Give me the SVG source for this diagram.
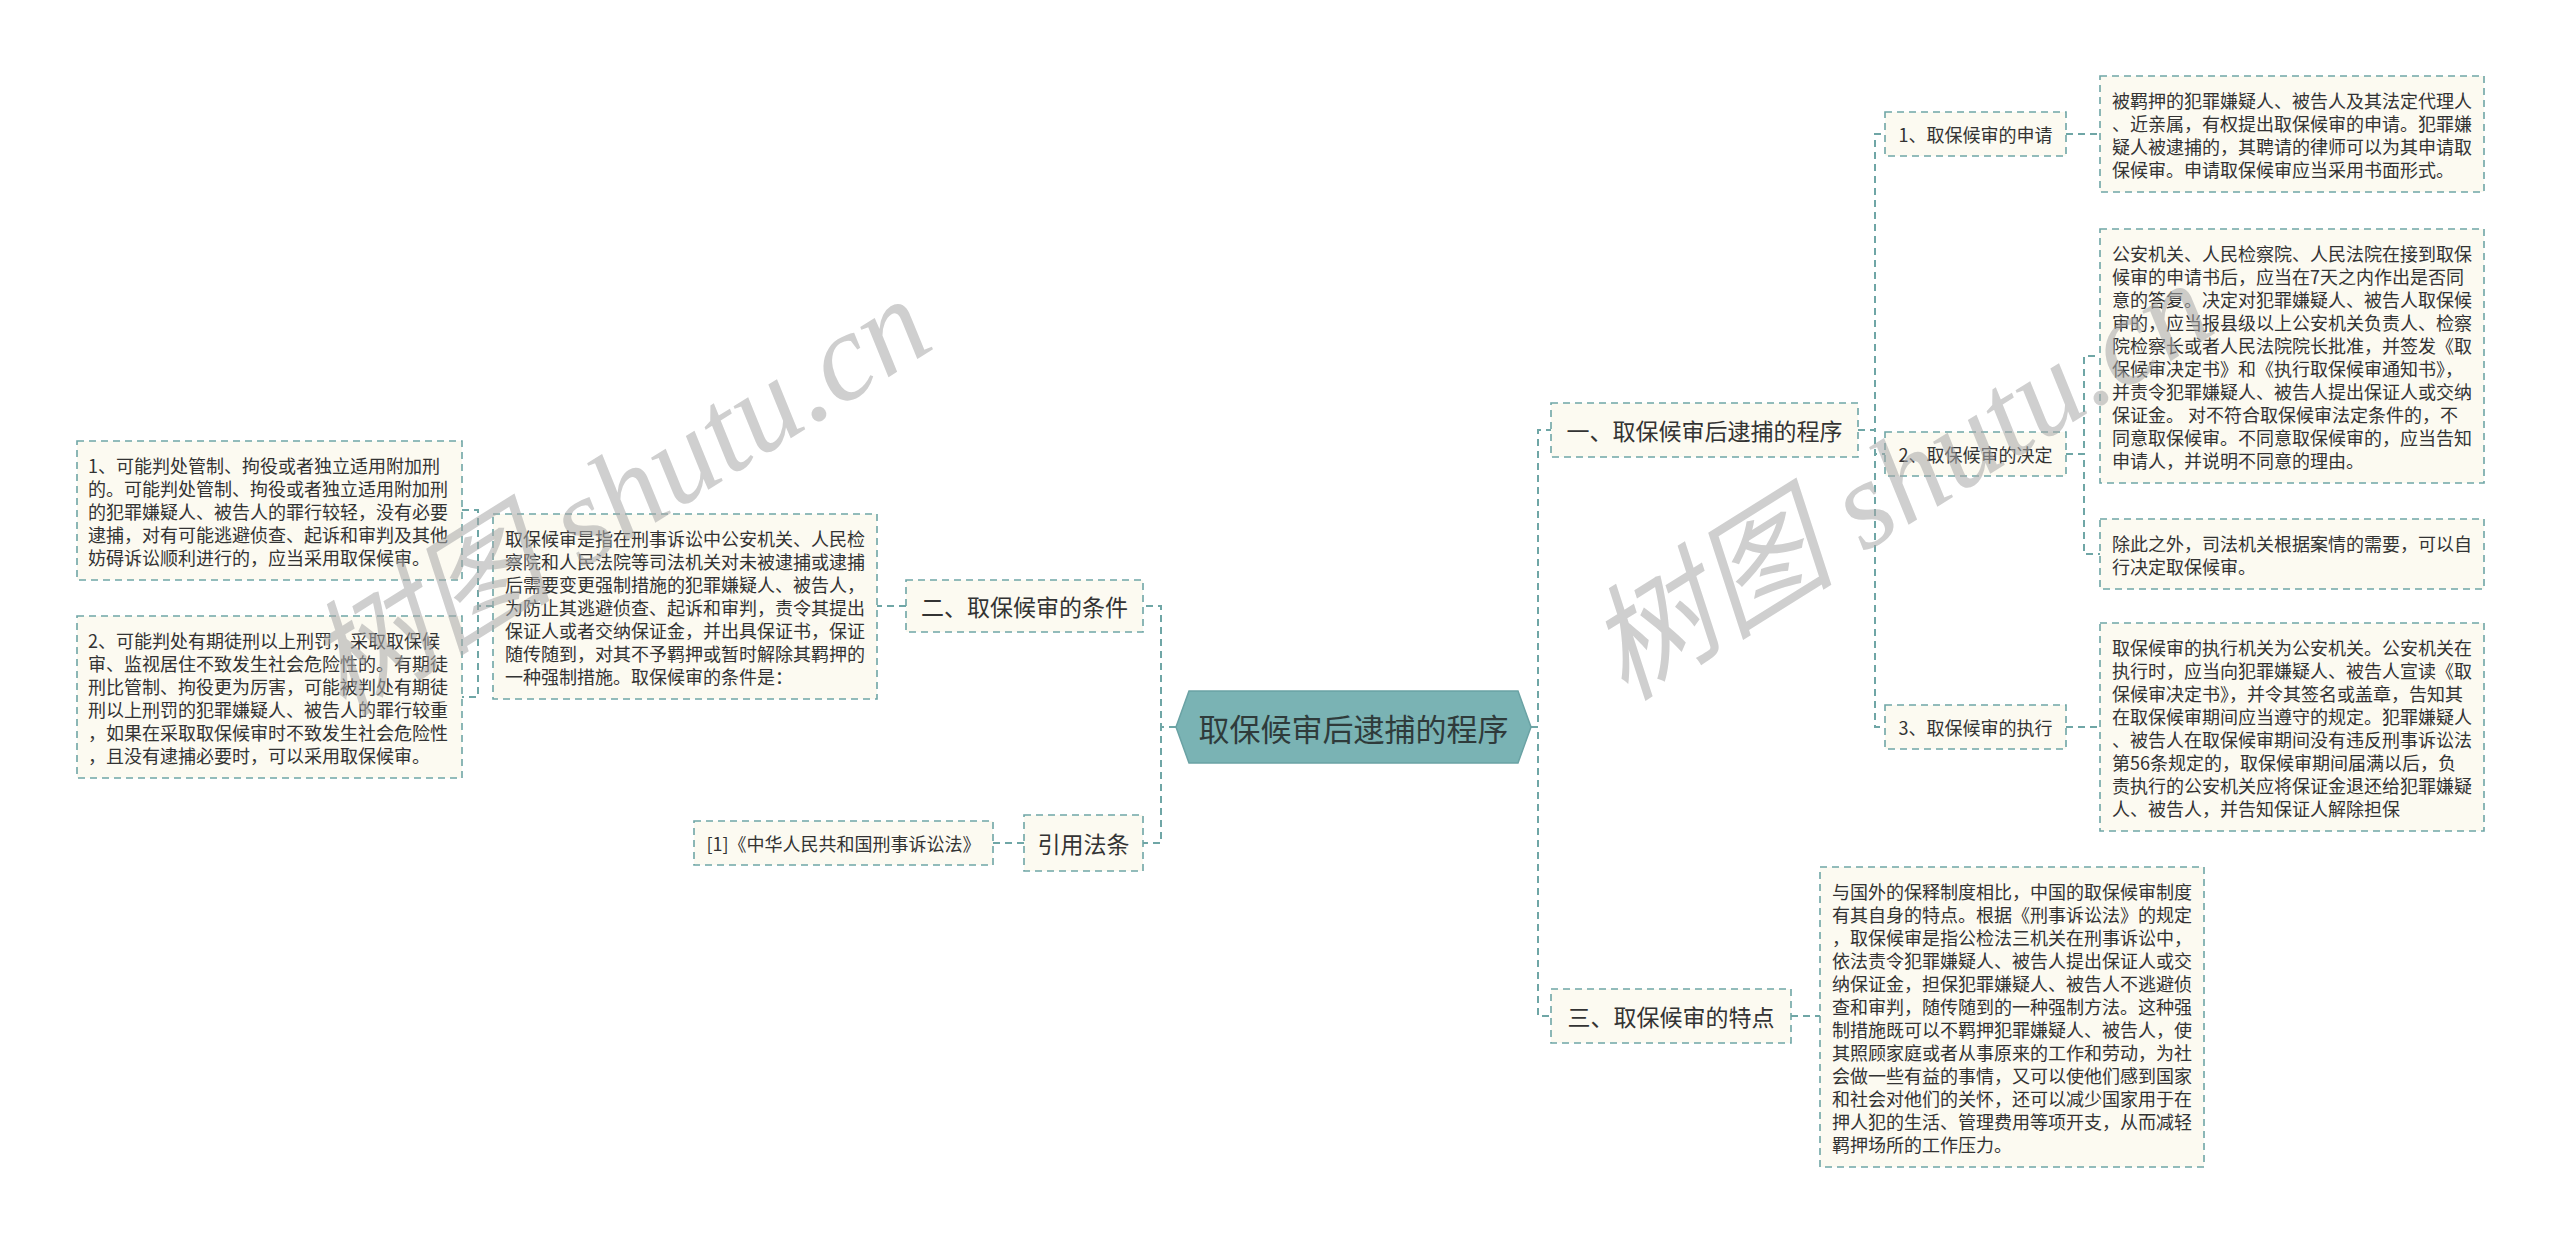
<svg xmlns="http://www.w3.org/2000/svg" width="2560" height="1245" viewBox="0 0 2560 1245">
<style>
.box{fill:#fcfaf1;stroke:#6fa6a6;stroke-width:1.6;stroke-dasharray:7 5}
.con{fill:none;stroke:#6fa6a6;stroke-width:2;stroke-dasharray:7 5}
.t{font-family:"Noto Sans CJK SC","Noto Sans",sans-serif;font-size:18px;fill:#333;dominant-baseline:central}
.m{font-family:"Noto Sans CJK SC","Noto Sans",sans-serif;font-size:23px;fill:#333;dominant-baseline:central;text-anchor:middle}
.s{font-family:"Noto Sans CJK SC","Noto Sans",sans-serif;font-size:18px;fill:#333;dominant-baseline:central;text-anchor:middle}
.wm{font-family:"Liberation Serif","Noto Sans CJK SC",serif;font-style:italic;font-size:125px;fill:#a8a8a8;opacity:0.55}
</style>
<rect width="2560" height="1245" fill="#ffffff"/>
<g id="connectors">
<path class="con" d="M493,606 H478 V510 H462"/>
<path class="con" d="M493,606 H478 V697 H462"/>
<path class="con" d="M906,606 H877"/>
<path class="con" d="M1176,727 H1161 V606 H1143"/>
<path class="con" d="M1176,727 H1161 V843 H1143"/>
<path class="con" d="M1024,843 H993"/>
<path class="con" d="M1531,727 H1538 V430 H1551"/>
<path class="con" d="M1531,727 H1538 V1016 H1551"/>
<path class="con" d="M1791,1016 H1820"/>
<path class="con" d="M1858,430 H1875 V134 H1885"/>
<path class="con" d="M1858,430 H1875 V454 H1885"/>
<path class="con" d="M1858,430 H1875 V727 H1885"/>
<path class="con" d="M2066,134 H2100"/>
<path class="con" d="M2066,454 H2084 V356 H2100"/>
<path class="con" d="M2066,454 H2084 V554 H2100"/>
<path class="con" d="M2066,727 H2100"/>
</g>
<g id="root">
<polygon points="1176,727 1189,691 1518,691 1531,727 1518,763 1189,763" fill="#7ab3b4" stroke="#6aa2a4" stroke-width="1.5"/>
<text x="1353.5" y="727" font-family="'Noto Sans CJK SC',sans-serif" font-size="31" fill="#2f3b3b" text-anchor="middle" dominant-baseline="central">取保候审后逮捕的程序</text>
</g>
<g id="n-er">
<rect class="box" x="906" y="580" width="237" height="52"/>
<text class="m" x="1024.5" y="606">二、取保候审的条件</text>
</g>
<g id="n-er-desc">
<rect class="box" x="493" y="514" width="384" height="185"/>
<text class="t" x="505"><tspan x="505" y="538">取保候审是指在刑事诉讼中公安机关、人民检</tspan><tspan x="505" y="561">察院和人民法院等司法机关对未被逮捕或逮捕</tspan><tspan x="505" y="584">后需要变更强制措施的犯罪嫌疑人、被告人，</tspan><tspan x="505" y="607">为防止其逃避侦查、起诉和审判，责令其提出</tspan><tspan x="505" y="630">保证人或者交纳保证金，并出具保证书，保证</tspan><tspan x="505" y="653">随传随到，对其不予羁押或暂时解除其羁押的</tspan><tspan x="505" y="676">一种强制措施。取保候审的条件是：</tspan></text>
</g>
<g id="n-cond1">
<rect class="box" x="77" y="441" width="385" height="139"/>
<text class="t"><tspan x="88" y="465">1、可能判处管制、拘役或者独立适用附加刑</tspan><tspan x="88" y="488">的。可能判处管制、拘役或者独立适用附加刑</tspan><tspan x="88" y="511">的犯罪嫌疑人、被告人的罪行较轻，没有必要</tspan><tspan x="88" y="534">逮捕，对有可能逃避侦查、起诉和审判及其他</tspan><tspan x="88" y="557">妨碍诉讼顺利进行的，应当采用取保候审。</tspan></text>
</g>
<g id="n-cond2">
<rect class="box" x="77" y="616" width="385" height="162"/>
<text class="t"><tspan x="88" y="640">2、可能判处有期徒刑以上刑罚，采取取保候</tspan><tspan x="88" y="663">审、监视居住不致发生社会危险性的。有期徒</tspan><tspan x="88" y="686">刑比管制、拘役更为厉害，可能被判处有期徒</tspan><tspan x="88" y="709">刑以上刑罚的犯罪嫌疑人、被告人的罪行较重</tspan><tspan x="88" y="732">，如果在采取取保候审时不致发生社会危险性</tspan><tspan x="88" y="755">，且没有逮捕必要时，可以采用取保候审。</tspan></text>
</g>
<g id="n-law">
<rect class="box" x="1024" y="815" width="119" height="56"/>
<text class="m" x="1083.5" y="843">引用法条</text>
</g>
<g id="n-law1">
<rect class="box" x="694" y="821" width="299" height="44"/>
<text class="s" x="843.5" y="843">[1]《中华人民共和国刑事诉讼法》</text>
</g>
<g id="n-yi">
<rect class="box" x="1551" y="403" width="307" height="54"/>
<text class="m" x="1704.5" y="430">一、取保候审后逮捕的程序</text>
</g>
<g id="n-san">
<rect class="box" x="1551" y="989" width="240" height="54"/>
<text class="m" x="1671" y="1016">三、取保候审的特点</text>
</g>
<g id="n-san-desc">
<rect class="box" x="1820" y="867" width="384" height="300"/>
<text class="t"><tspan x="1832" y="891">与国外的保释制度相比，中国的取保候审制度</tspan><tspan x="1832" y="914">有其自身的特点。根据《刑事诉讼法》的规定</tspan><tspan x="1832" y="937">，取保候审是指公检法三机关在刑事诉讼中，</tspan><tspan x="1832" y="960">依法责令犯罪嫌疑人、被告人提出保证人或交</tspan><tspan x="1832" y="983">纳保证金，担保犯罪嫌疑人、被告人不逃避侦</tspan><tspan x="1832" y="1006">查和审判，随传随到的一种强制方法。这种强</tspan><tspan x="1832" y="1029">制措施既可以不羁押犯罪嫌疑人、被告人，使</tspan><tspan x="1832" y="1052">其照顾家庭或者从事原来的工作和劳动，为社</tspan><tspan x="1832" y="1075">会做一些有益的事情，又可以使他们感到国家</tspan><tspan x="1832" y="1098">和社会对他们的关怀，还可以减少国家用于在</tspan><tspan x="1832" y="1121">押人犯的生活、管理费用等项开支，从而减轻</tspan><tspan x="1832" y="1144">羁押场所的工作压力。</tspan></text>
</g>
<g id="n-sub1">
<rect class="box" x="1885" y="112" width="181" height="44"/>
<text class="s" x="1975.5" y="134">1、取保候审的申请</text>
</g>
<g id="n-sub2">
<rect class="box" x="1885" y="432" width="181" height="44"/>
<text class="s" x="1975.5" y="454">2、取保候审的决定</text>
</g>
<g id="n-sub3">
<rect class="box" x="1885" y="705" width="181" height="44"/>
<text class="s" x="1975.5" y="727">3、取保候审的执行</text>
</g>
<g id="n-a">
<rect class="box" x="2100" y="76" width="384" height="116"/>
<text class="t"><tspan x="2112" y="100">被羁押的犯罪嫌疑人、被告人及其法定代理人</tspan><tspan x="2112" y="123">、近亲属，有权提出取保候审的申请。犯罪嫌</tspan><tspan x="2112" y="146">疑人被逮捕的，其聘请的律师可以为其申请取</tspan><tspan x="2112" y="169">保候审。申请取保候审应当采用书面形式。</tspan></text>
</g>
<g id="n-b">
<rect class="box" x="2100" y="229" width="384" height="254"/>
<text class="t"><tspan x="2112" y="253">公安机关、人民检察院、人民法院在接到取保</tspan><tspan x="2112" y="276">候审的申请书后，应当在7天之内作出是否同</tspan><tspan x="2112" y="299">意的答复。决定对犯罪嫌疑人、被告人取保候</tspan><tspan x="2112" y="322">审的，应当报县级以上公安机关负责人、检察</tspan><tspan x="2112" y="345">院检察长或者人民法院院长批准，并签发《取</tspan><tspan x="2112" y="368">保候审决定书》和《执行取保候审通知书》，</tspan><tspan x="2112" y="391">并责令犯罪嫌疑人、被告人提出保证人或交纳</tspan><tspan x="2112" y="414">保证金。 对不符合取保候审法定条件的，不</tspan><tspan x="2112" y="437">同意取保候审。不同意取保候审的，应当告知</tspan><tspan x="2112" y="460">申请人，并说明不同意的理由。</tspan></text>
</g>
<g id="n-c">
<rect class="box" x="2100" y="519" width="384" height="70"/>
<text class="t"><tspan x="2112" y="543">除此之外，司法机关根据案情的需要，可以自</tspan><tspan x="2112" y="566">行决定取保候审。</tspan></text>
</g>
<g id="n-d">
<rect class="box" x="2100" y="623" width="384" height="208"/>
<text class="t"><tspan x="2112" y="647">取保候审的执行机关为公安机关。公安机关在</tspan><tspan x="2112" y="670">执行时，应当向犯罪嫌疑人、被告人宣读《取</tspan><tspan x="2112" y="693">保候审决定书》，并令其签名或盖章，告知其</tspan><tspan x="2112" y="716">在取保候审期间应当遵守的规定。犯罪嫌疑人</tspan><tspan x="2112" y="739">、被告人在取保候审期间没有违反刑事诉讼法</tspan><tspan x="2112" y="762">第56条规定的，取保候审期间届满以后，负</tspan><tspan x="2112" y="785">责执行的公安机关应将保证金退还给犯罪嫌疑</tspan><tspan x="2112" y="808">人、被告人，并告知保证人解除担保</tspan></text>
</g>
<g id="watermarks">
<text class="wm" transform="translate(343,718) rotate(-32)">树图 shutu.cn</text>
<text class="wm" transform="translate(1625,702) rotate(-32)">树图 shutu.cn</text>
</g>
</svg>
